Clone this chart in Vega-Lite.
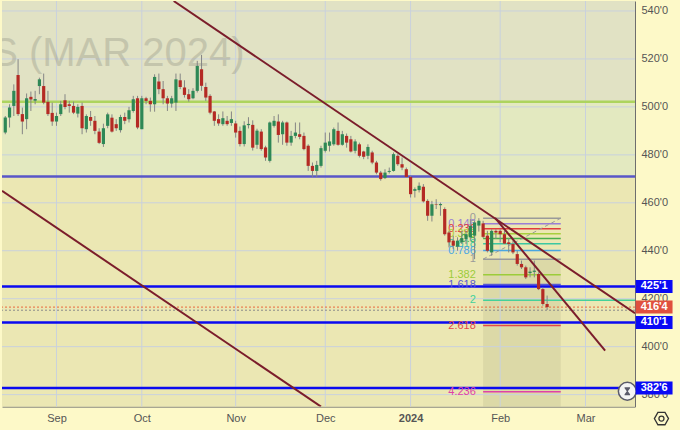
{
  "$schema": "https://vega.github.io/schema/vega-lite/v6.json",
  "width": 680,
  "height": 430,
  "autosize": {"type": "fit", "contains": "padding"},
  "padding": {"left": 0, "top": 0, "right": 4, "bottom": 1.4},
  "background": "#fdf9c8",
  "config": {"view": {"stroke": null}},
  "resolve": {"scale": {"color": "independent"}},
  "datasets": {
    "candles": [
      {"i":0,"o":489.3,"h":496.2,"l":488.6,"c":495.6},
      {"i":1,"o":495.6,"h":501.1,"l":491.4,"c":499.7},
      {"i":2,"o":500.4,"h":509.4,"l":496.2,"c":506.7},
      {"i":3,"o":513.3,"h":519.9,"l":496.2,"c":497.0},
      {"i":4,"o":497.0,"h":499.7,"l":488.6,"c":493.9},
      {"i":5,"o":494.9,"h":505.6,"l":490.7,"c":503.6},
      {"i":6,"o":504.2,"h":506.4,"l":498.3,"c":503.1},
      {"i":7,"o":502.6,"h":506.7,"l":501.1,"c":503.3},
      {"i":8,"o":508.7,"h":512.2,"l":505.3,"c":511.5},
      {"i":9,"o":508.7,"h":513.9,"l":501.1,"c":501.8},
      {"i":10,"o":502.1,"h":506.7,"l":496.2,"c":497.0},
      {"i":11,"o":497.5,"h":501.8,"l":492.1,"c":493.9},
      {"i":12,"o":493.9,"h":497.6,"l":492.1,"c":496.2},
      {"i":13,"o":497.0,"h":502.5,"l":496.2,"c":501.1},
      {"i":14,"o":502.8,"h":505.3,"l":499.0,"c":500.0},
      {"i":15,"o":501.1,"h":502.5,"l":497.6,"c":500.4},
      {"i":16,"o":500.4,"h":502.2,"l":497.0,"c":497.6},
      {"i":17,"o":497.2,"h":501.1,"l":495.6,"c":500.0},
      {"i":18,"o":500.4,"h":501.8,"l":488.6,"c":491.1},
      {"i":19,"o":490.7,"h":496.9,"l":489.3,"c":496.2},
      {"i":20,"o":495.8,"h":498.3,"l":492.1,"c":494.2},
      {"i":21,"o":494.2,"h":496.2,"l":488.6,"c":490.0},
      {"i":22,"o":489.7,"h":491.1,"l":484.5,"c":485.0},
      {"i":23,"o":484.5,"h":493.0,"l":483.3,"c":491.1},
      {"i":24,"o":492.1,"h":497.6,"l":491.1,"c":496.9},
      {"i":25,"o":495.5,"h":496.9,"l":489.3,"c":489.7},
      {"i":26,"o":492.8,"h":494.9,"l":490.0,"c":491.1},
      {"i":27,"o":490.3,"h":496.7,"l":489.3,"c":495.8},
      {"i":28,"o":495.8,"h":497.6,"l":492.8,"c":494.2},
      {"i":29,"o":494.9,"h":500.0,"l":493.5,"c":498.6},
      {"i":30,"o":498.3,"h":504.6,"l":497.6,"c":503.2},
      {"i":31,"o":503.6,"h":504.6,"l":490.7,"c":491.4},
      {"i":32,"o":490.7,"h":504.6,"l":490.7,"c":503.6},
      {"i":33,"o":503.6,"h":504.2,"l":501.1,"c":502.5},
      {"i":34,"o":502.5,"h":503.9,"l":498.0,"c":501.1},
      {"i":35,"o":501.1,"h":513.6,"l":498.0,"c":512.5},
      {"i":36,"o":510.6,"h":513.9,"l":505.3,"c":507.4},
      {"i":37,"o":507.4,"h":510.8,"l":501.1,"c":503.6},
      {"i":38,"o":503.6,"h":504.6,"l":498.3,"c":501.4},
      {"i":39,"o":501.4,"h":504.6,"l":499.7,"c":503.6},
      {"i":40,"o":501.8,"h":513.9,"l":498.3,"c":511.5},
      {"i":41,"o":511.1,"h":513.9,"l":507.4,"c":508.3},
      {"i":42,"o":508.1,"h":511.1,"l":503.9,"c":505.0},
      {"i":43,"o":505.3,"h":507.4,"l":502.2,"c":503.2},
      {"i":44,"o":503.6,"h":507.8,"l":503.2,"c":506.7},
      {"i":45,"o":506.7,"h":519.2,"l":506.0,"c":517.1},
      {"i":46,"o":515.7,"h":521.7,"l":506.7,"c":508.8},
      {"i":47,"o":508.3,"h":510.1,"l":502.5,"c":503.9},
      {"i":48,"o":504.6,"h":505.3,"l":496.9,"c":497.6},
      {"i":49,"o":498.1,"h":498.3,"l":492.1,"c":494.2},
      {"i":50,"o":494.9,"h":496.9,"l":492.1,"c":493.1},
      {"i":51,"o":492.8,"h":498.1,"l":492.1,"c":495.3},
      {"i":52,"o":494.2,"h":496.2,"l":492.1,"c":492.8},
      {"i":53,"o":493.3,"h":498.1,"l":492.1,"c":494.9},
      {"i":54,"o":493.1,"h":494.2,"l":487.2,"c":489.3},
      {"i":55,"o":490.0,"h":491.8,"l":483.5,"c":484.5},
      {"i":56,"o":484.5,"h":494.0,"l":483.5,"c":492.3},
      {"i":57,"o":492.4,"h":495.7,"l":491.0,"c":492.9},
      {"i":58,"o":492.5,"h":494.4,"l":481.8,"c":483.0},
      {"i":59,"o":484.2,"h":490.9,"l":482.5,"c":490.1},
      {"i":60,"o":489.7,"h":490.7,"l":481.7,"c":482.4},
      {"i":61,"o":483.1,"h":483.8,"l":477.5,"c":478.9},
      {"i":62,"o":477.5,"h":493.9,"l":476.8,"c":493.5},
      {"i":63,"o":492.1,"h":496.2,"l":491.4,"c":494.2},
      {"i":64,"o":493.9,"h":496.9,"l":485.1,"c":488.3},
      {"i":65,"o":488.6,"h":494.2,"l":484.2,"c":493.5},
      {"i":66,"o":493.5,"h":493.9,"l":483.8,"c":485.1},
      {"i":67,"o":485.1,"h":490.0,"l":483.8,"c":487.9},
      {"i":68,"o":487.9,"h":493.5,"l":486.9,"c":489.3},
      {"i":69,"o":488.6,"h":493.5,"l":486.5,"c":487.5},
      {"i":70,"o":487.9,"h":489.3,"l":481.9,"c":482.4},
      {"i":71,"o":483.8,"h":484.4,"l":473.3,"c":475.4},
      {"i":72,"o":475.4,"h":476.8,"l":470.8,"c":473.3},
      {"i":73,"o":473.3,"h":477.5,"l":470.8,"c":475.8},
      {"i":74,"o":475.4,"h":483.8,"l":474.7,"c":482.8},
      {"i":75,"o":481.7,"h":489.3,"l":481.0,"c":485.1},
      {"i":76,"o":483.8,"h":489.3,"l":481.4,"c":485.6},
      {"i":77,"o":484.4,"h":491.4,"l":483.8,"c":490.7},
      {"i":78,"o":490.0,"h":493.5,"l":483.8,"c":484.2},
      {"i":79,"o":484.2,"h":490.0,"l":483.8,"c":488.6},
      {"i":80,"o":487.9,"h":488.9,"l":483.0,"c":485.1},
      {"i":81,"o":486.5,"h":487.9,"l":481.0,"c":481.4},
      {"i":82,"o":481.7,"h":486.5,"l":480.6,"c":485.6},
      {"i":83,"o":484.4,"h":485.1,"l":478.9,"c":479.6},
      {"i":84,"o":481.4,"h":481.7,"l":478.2,"c":479.2},
      {"i":85,"o":479.6,"h":484.4,"l":478.2,"c":483.3},
      {"i":86,"o":481.0,"h":481.7,"l":476.1,"c":476.8},
      {"i":87,"o":476.8,"h":477.5,"l":471.9,"c":472.6},
      {"i":88,"o":472.6,"h":473.3,"l":469.2,"c":469.9},
      {"i":89,"o":470.3,"h":474.0,"l":469.9,"c":472.6},
      {"i":90,"o":472.9,"h":474.7,"l":472.2,"c":473.3},
      {"i":91,"o":473.3,"h":481.0,"l":473.0,"c":480.3},
      {"i":92,"o":479.6,"h":480.3,"l":475.4,"c":476.1},
      {"i":93,"o":476.1,"h":478.9,"l":473.6,"c":474.7},
      {"i":94,"o":474.0,"h":474.7,"l":470.6,"c":470.8},
      {"i":95,"o":470.8,"h":471.3,"l":462.2,"c":463.6},
      {"i":96,"o":465.0,"h":466.4,"l":462.2,"c":465.7},
      {"i":97,"o":465.3,"h":468.5,"l":464.3,"c":467.1},
      {"i":98,"o":466.7,"h":467.8,"l":460.1,"c":460.6},
      {"i":99,"o":460.8,"h":461.5,"l":452.5,"c":454.6},
      {"i":100,"o":454.6,"h":460.8,"l":452.2,"c":459.4},
      {"i":101,"o":459.4,"h":461.5,"l":457.4,"c":459.2},
      {"i":102,"o":459.0,"h":460.1,"l":454.6,"c":459.5},
      {"i":103,"o":457.4,"h":458.1,"l":446.3,"c":446.9},
      {"i":104,"o":447.6,"h":448.3,"l":441.4,"c":443.5},
      {"i":105,"o":444.2,"h":446.3,"l":440.7,"c":442.1},
      {"i":106,"o":441.7,"h":445.6,"l":440.0,"c":444.2},
      {"i":107,"o":443.5,"h":448.3,"l":442.8,"c":445.3},
      {"i":108,"o":444.9,"h":448.3,"l":442.8,"c":446.9},
      {"i":109,"o":445.6,"h":453.2,"l":444.2,"c":450.4},
      {"i":110,"o":446.3,"h":452.5,"l":436.5,"c":451.8},
      {"i":111,"o":450.5,"h":453.6,"l":448.0,"c":452.5},
      {"i":112,"o":451.4,"h":452.5,"l":445.3,"c":445.8},
      {"i":113,"o":446.3,"h":448.3,"l":439.3,"c":440.0},
      {"i":114,"o":439.3,"h":449.0,"l":437.9,"c":448.3},
      {"i":115,"o":448.3,"h":449.0,"l":444.9,"c":447.6},
      {"i":116,"o":448.3,"h":449.0,"l":443.5,"c":446.9},
      {"i":117,"o":446.9,"h":448.3,"l":442.8,"c":443.0},
      {"i":118,"o":443.5,"h":445.3,"l":439.3,"c":442.8},
      {"i":119,"o":442.8,"h":444.2,"l":438.6,"c":439.3},
      {"i":120,"o":438.6,"h":440.0,"l":433.8,"c":434.5},
      {"i":121,"o":434.5,"h":435.9,"l":432.4,"c":433.1},
      {"i":122,"o":433.1,"h":433.8,"l":428.2,"c":428.9},
      {"i":123,"o":430.7,"h":433.1,"l":428.9,"c":431.3},
      {"i":124,"o":431.2,"h":435.9,"l":428.9,"c":431.7},
      {"i":125,"o":430.3,"h":431.0,"l":423.6,"c":424.0},
      {"i":126,"o":424.0,"h":424.7,"l":417.1,"c":417.8},
      {"i":127,"o":417.8,"h":421.3,"l":415.3,"c":416.5}
    ],
    "bands": [
      {"z": "top", "lo": 501.7, "hi": 544.17},
      {"z": "mid", "lo": 471.0, "hi": 501.7},
      {"z": "low", "lo": 375.0, "hi": 471.0}
    ],
    "fib": [
      {"r": "0", "p": 453.6, "s": 112, "e": 130.2},
      {"r": "0.146", "p": 451.3, "s": 112, "e": 130.2},
      {"r": "0.236", "p": 449.2, "s": 112, "e": 130.2},
      {"r": "0.382", "p": 447.1, "s": 112, "e": 130.2},
      {"r": "0.5", "p": 445.1, "s": 112, "e": 130.2},
      {"r": "0.618", "p": 442.9, "s": 112, "e": 130.2},
      {"r": "0.786", "p": 440.1, "s": 112, "e": 130.2},
      {"r": "1", "p": 436.5, "s": 112, "e": 130.2},
      {"r": "1.382", "p": 430.0, "s": 112, "e": 130.2},
      {"r": "1.618", "p": 425.9, "s": 112, "e": 130.2},
      {"r": "2", "p": 419.4, "s": 112, "e": 147.6},
      {"r": "2.618", "p": 408.8, "s": 112, "e": 130.2},
      {"r": "4.236", "p": 381.2, "s": 112, "e": 130.2}
    ],
    "trend": [
      {"id": "a", "i": 39.47, "p": 544.17},
      {"id": "a", "i": 147.6, "p": 413.96},
      {"id": "b", "i": -0.77, "p": 465.0},
      {"id": "b", "i": 74.0, "p": 375.0},
      {"id": "c", "i": 114.8, "p": 453.75},
      {"id": "c", "i": 140.6, "p": 398.33}
    ],
    "tags": [
      {"p": 425.125, "t": "425'1", "tk": "b"},
      {"p": 410.125, "t": "410'1", "tk": "b"},
      {"p": 382.75, "t": "382'6", "tk": "b"},
      {"p": 416.5, "t": "416'4", "tk": "r"}
    ]
  },
  "layer": [
    {
      "data": {"name": "bands"},
      "mark": {"type": "rect"},
      "encoding": {
        "x": {"datum": -0.77, "type": "quantitative", "title": null, "scale": {"domain": [-0.77, 147.6], "nice": false, "zero": false, "padding": 0}},
        "x2": {"datum": 147.6},
        "y": {"field": "lo", "type": "quantitative", "title": null, "scale": {"domain": [375, 544.17], "nice": false, "zero": false, "padding": 0}},
        "y2": {"field": "hi"},
        "color": {"field": "z", "type": "nominal", "scale": {"domain": ["top", "mid", "low"], "range": ["#e1e2c4", "#e3e9c0", "#ebe7b3"]}, "legend": null}
      }
    },
    {
      "data": {"values": [{"s": 112, "e": 130.2, "lo": 375, "hi": 436.5}]},
      "mark": {"type": "rect", "color": "#7d7d60", "opacity": 0.13},
      "encoding": {
        "x": {"field": "s", "type": "quantitative", "title": null, "scale": {"domain": [-0.77, 147.6], "nice": false, "zero": false, "padding": 0}},
        "x2": {"field": "e"},
        "y": {"field": "lo", "type": "quantitative", "title": null, "scale": {"domain": [375, 544.17], "nice": false, "zero": false, "padding": 0}},
        "y2": {"field": "hi"}
      }
    },
    {
      "data": {"values": [{"v": 12}, {"v": 32}, {"v": 54}, {"v": 75}, {"v": 95}, {"v": 116}, {"v": 136}]},
      "mark": {"type": "rule", "color": "#c9d1dd", "strokeWidth": 1},
      "encoding": {
        "x": {"field": "v", "type": "quantitative", "title": null, "scale": {"domain": [-0.77, 147.6], "nice": false, "zero": false, "padding": 0}}
      }
    },
    {
      "data": {"values": [{"v": 380}, {"v": 400}, {"v": 420}, {"v": 440}, {"v": 460}, {"v": 480}, {"v": 500}, {"v": 520}, {"v": 540}]},
      "mark": {"type": "rule", "color": "#c9d1dd", "strokeWidth": 1},
      "encoding": {
        "y": {"field": "v", "type": "quantitative", "title": null, "scale": {"domain": [375, 544.17], "nice": false, "zero": false, "padding": 0}}
      }
    },
    {
      "data": {"values": [{"t": "S (MAR 2024)", "i": -3.3, "p": 517.1}]},
      "mark": {"type": "text", "align": "left", "baseline": "alphabetic", "font": "Liberation Sans", "fontSize": 40, "color": "#8a8a7c", "opacity": 0.32, "clip": true},
      "encoding": {
        "x": {"field": "i", "type": "quantitative", "title": null, "scale": {"domain": [-0.77, 147.6], "nice": false, "zero": false, "padding": 0}},
        "y": {"field": "p", "type": "quantitative", "title": null, "scale": {"domain": [375, 544.17], "nice": false, "zero": false, "padding": 0}},
        "text": {"field": "t"}
      }
    },
    {
      "data": {"values": [{"p": 502.1, "hk": "g"}, {"p": 471.0, "hk": "v"}]},
      "mark": {"type": "rule", "strokeWidth": 2.5},
      "encoding": {
        "y": {"field": "p", "type": "quantitative", "title": null, "scale": {"domain": [375, 544.17], "nice": false, "zero": false, "padding": 0}},
        "color": {"field": "hk", "type": "nominal", "scale": {"domain": ["g", "v"], "range": ["#add45e", "#5856c8"]}, "legend": null}
      }
    },
    {
      "data": {"name": "fib"},
      "mark": {"type": "rule", "strokeWidth": 1.5},
      "encoding": {
        "x": {"field": "s", "type": "quantitative", "title": null, "scale": {"domain": [-0.77, 147.6], "nice": false, "zero": false, "padding": 0}},
        "x2": {"field": "e"},
        "y": {"field": "p", "type": "quantitative", "title": null, "scale": {"domain": [375, 544.17], "nice": false, "zero": false, "padding": 0}},
        "color": {"field": "r", "type": "nominal", "legend": null,
          "scale": {"domain": ["0", "0.146", "0.236", "0.382", "0.5", "0.618", "0.786", "1", "1.382", "1.618", "2", "2.618", "4.236"],
            "range": ["#9a9a9a", "#9a7fd6", "#e23b3b", "#a8cf3c", "#48b04c", "#3cc8a2", "#4aa6e0", "#9a9a9a", "#9ccc3a", "#5a5ad0", "#44d19a", "#e44848", "#e040a8"]}}
      }
    },
    {
      "data": {"values": [{"i": 112, "p": 436.5}, {"i": 130.2, "p": 453.6}]},
      "mark": {"type": "line", "color": "#9a9a9a", "strokeWidth": 1, "strokeDash": [4, 3]},
      "encoding": {
        "x": {"field": "i", "type": "quantitative", "title": null, "scale": {"domain": [-0.77, 147.6], "nice": false, "zero": false, "padding": 0}},
        "y": {"field": "p", "type": "quantitative", "title": null, "scale": {"domain": [375, 544.17], "nice": false, "zero": false, "padding": 0}}
      }
    },
    {
      "data": {"name": "tags"},
      "transform": [{"filter": "datum.tk == 'b'"}],
      "mark": {"type": "rule", "color": "#0b0bf0", "strokeWidth": 2.5},
      "encoding": {
        "y": {"field": "p", "type": "quantitative", "title": null, "scale": {"domain": [375, 544.17], "nice": false, "zero": false, "padding": 0}}
      }
    },
    {
      "data": {"values": [{"p": 416.5, "dk": "r"}, {"p": 415.2, "dk": "g"}]},
      "mark": {"type": "rule", "strokeWidth": 1, "strokeDash": [2, 2]},
      "encoding": {
        "y": {"field": "p", "type": "quantitative", "title": null, "scale": {"domain": [375, 544.17], "nice": false, "zero": false, "padding": 0}},
        "color": {"field": "dk", "type": "nominal", "scale": {"domain": ["r", "g"], "range": ["#e8683e", "#8a8a8a"]}, "legend": null}
      }
    },
    {
      "data": {"name": "fib"},
      "mark": {"type": "text", "align": "right", "baseline": "middle", "font": "Liberation Sans", "fontSize": 11},
      "encoding": {
        "x": {"datum": 110.3, "type": "quantitative", "title": null, "scale": {"domain": [-0.77, 147.6], "nice": false, "zero": false, "padding": 0}},
        "y": {"field": "p", "type": "quantitative", "title": null, "scale": {"domain": [375, 544.17], "nice": false, "zero": false, "padding": 0}},
        "text": {"field": "r"},
        "color": {"field": "r", "type": "nominal", "legend": null,
          "scale": {"domain": ["0", "0.146", "0.236", "0.382", "0.5", "0.618", "0.786", "1", "1.382", "1.618", "2", "2.618", "4.236"],
            "range": ["#9a9a9a", "#9a7fd6", "#e23b3b", "#a8cf3c", "#48b04c", "#3cc8a2", "#4aa6e0", "#9a9a9a", "#9ccc3a", "#5a5ad0", "#44d19a", "#e44848", "#e040a8"]}}
      }
    },
    {
      "data": {"name": "candles"},
      "mark": {"type": "rule", "color": "#858585", "strokeWidth": 1},
      "encoding": {
        "x": {"field": "i", "type": "quantitative", "title": null, "scale": {"domain": [-0.77, 147.6], "nice": false, "zero": false, "padding": 0}},
        "y": {"field": "l", "type": "quantitative", "title": null, "scale": {"domain": [375, 544.17], "nice": false, "zero": false, "padding": 0}},
        "y2": {"field": "h"}
      }
    },
    {
      "data": {"name": "candles"},
      "mark": {"type": "bar", "size": 3.2},
      "encoding": {
        "x": {"field": "i", "type": "quantitative", "title": null, "scale": {"domain": [-0.77, 147.6], "nice": false, "zero": false, "padding": 0},
          "axis": {"values": [12, 32, 54, 75, 95, 116, 136], "grid": false, "ticks": false, "domain": true, "domainColor": "#6e6e6e", "title": null, "labelFlush": false, "labelOverlap": false,
            "labelExpr": "datum.value == 12 ? 'Sep' : datum.value == 32 ? 'Oct' : datum.value == 54 ? 'Nov' : datum.value == 75 ? 'Dec' : datum.value == 95 ? '2024' : datum.value == 116 ? 'Feb' : 'Mar'",
            "labelFont": "Liberation Sans", "labelFontSize": 11, "labelColor": "#555555", "labelPadding": 6,
            "labelFontWeight": {"condition": {"test": "datum.value == 95", "value": "bold"}, "value": "normal"}}},
        "y": {"field": "o", "type": "quantitative", "title": null, "scale": {"domain": [375, 544.17], "nice": false, "zero": false, "padding": 0},
          "axis": {"orient": "right", "values": [380, 400, 420, 440, 460, 480, 500, 520, 540], "grid": false, "ticks": false, "domain": true, "domainColor": "#6e6e6e", "title": null, "labelOverlap": false,
            "labelExpr": "datum.value + \"'0\"", "labelFont": "Liberation Sans", "labelFontSize": 11, "labelColor": "#555555", "labelPadding": 6}},
        "y2": {"field": "c"},
        "color": {"condition": {"test": "datum.c >= datum.o", "value": "#2e8856"}, "value": "#b42a24"}
      }
    },
    {
      "data": {"name": "trend"},
      "mark": {"type": "line", "color": "#7b1d2b", "strokeWidth": 2, "clip": true},
      "encoding": {
        "x": {"field": "i", "type": "quantitative", "title": null, "scale": {"domain": [-0.77, 147.6], "nice": false, "zero": false, "padding": 0}},
        "y": {"field": "p", "type": "quantitative", "title": null, "scale": {"domain": [375, 544.17], "nice": false, "zero": false, "padding": 0}},
        "detail": {"field": "id"}
      }
    },
    {
      "data": {"values": [{"i": 145.8, "p": 381.4}]},
      "mark": {"type": "point", "shape": "circle", "filled": true, "size": 320, "color": "#f4f4f4", "stroke": "#5a5a6a", "strokeWidth": 1.5, "opacity": 1},
      "encoding": {
        "x": {"field": "i", "type": "quantitative", "title": null, "scale": {"domain": [-0.77, 147.6], "nice": false, "zero": false, "padding": 0}},
        "y": {"field": "p", "type": "quantitative", "title": null, "scale": {"domain": [375, 544.17], "nice": false, "zero": false, "padding": 0}}
      }
    },
    {
      "data": {"values": [{"i": 145.8, "p": 381.4}]},
      "mark": {"type": "point", "shape": "M -0.55 -0.8 L 0.55 -0.8 L 0.55 -0.6 L 0.1 0 L 0.55 0.6 L 0.55 0.8 L -0.55 0.8 L -0.55 0.6 L -0.1 0 L -0.55 -0.6 Z", "filled": true, "size": 100, "color": "#5a5a6a", "opacity": 1},
      "encoding": {
        "x": {"field": "i", "type": "quantitative", "title": null, "scale": {"domain": [-0.77, 147.6], "nice": false, "zero": false, "padding": 0}},
        "y": {"field": "p", "type": "quantitative", "title": null, "scale": {"domain": [375, 544.17], "nice": false, "zero": false, "padding": 0}}
      }
    },
    {
      "data": {"values": [{"i": 153.8, "p": 370.0}]},
      "mark": {"type": "point", "shape": "M -1 0 L -0.5 -0.87 L 0.5 -0.87 L 1 0 L 0.5 0.87 L -0.5 0.87 Z", "filled": false, "size": 200, "color": "#333333", "strokeWidth": 1.3, "opacity": 1, "clip": false},
      "encoding": {
        "x": {"field": "i", "type": "quantitative", "title": null, "scale": {"domain": [-0.77, 147.6], "nice": false, "zero": false, "padding": 0}},
        "y": {"field": "p", "type": "quantitative", "title": null, "scale": {"domain": [375, 544.17], "nice": false, "zero": false, "padding": 0}}
      }
    },
    {
      "data": {"values": [{"i": 153.8, "p": 370.0}]},
      "mark": {"type": "point", "shape": "circle", "filled": false, "size": 25, "color": "#333333", "strokeWidth": 1.3, "opacity": 1, "clip": false},
      "encoding": {
        "x": {"field": "i", "type": "quantitative", "title": null, "scale": {"domain": [-0.77, 147.6], "nice": false, "zero": false, "padding": 0}},
        "y": {"field": "p", "type": "quantitative", "title": null, "scale": {"domain": [375, 544.17], "nice": false, "zero": false, "padding": 0}}
      }
    },
    {
      "data": {"name": "tags"},
      "mark": {"type": "bar", "size": 13, "orient": "horizontal", "clip": false},
      "encoding": {
        "x": {"datum": 147.75, "type": "quantitative", "title": null, "scale": {"domain": [-0.77, 147.6], "nice": false, "zero": false, "padding": 0}},
        "x2": {"datum": 156.4},
        "y": {"field": "p", "type": "quantitative", "title": null, "scale": {"domain": [375, 544.17], "nice": false, "zero": false, "padding": 0}},
        "color": {"field": "tk", "type": "nominal", "scale": {"domain": ["b", "r"], "range": ["#0a0af5", "#e0503e"]}, "legend": null}
      }
    },
    {
      "data": {"name": "tags"},
      "mark": {"type": "text", "align": "center", "baseline": "middle", "font": "Liberation Sans", "fontSize": 11, "fontWeight": "bold", "color": "#ffffff", "clip": false},
      "encoding": {
        "x": {"datum": 152.1, "type": "quantitative", "title": null, "scale": {"domain": [-0.77, 147.6], "nice": false, "zero": false, "padding": 0}},
        "y": {"field": "p", "type": "quantitative", "title": null, "scale": {"domain": [375, 544.17], "nice": false, "zero": false, "padding": 0}},
        "text": {"field": "t"}
      }
    }
  ]
}
